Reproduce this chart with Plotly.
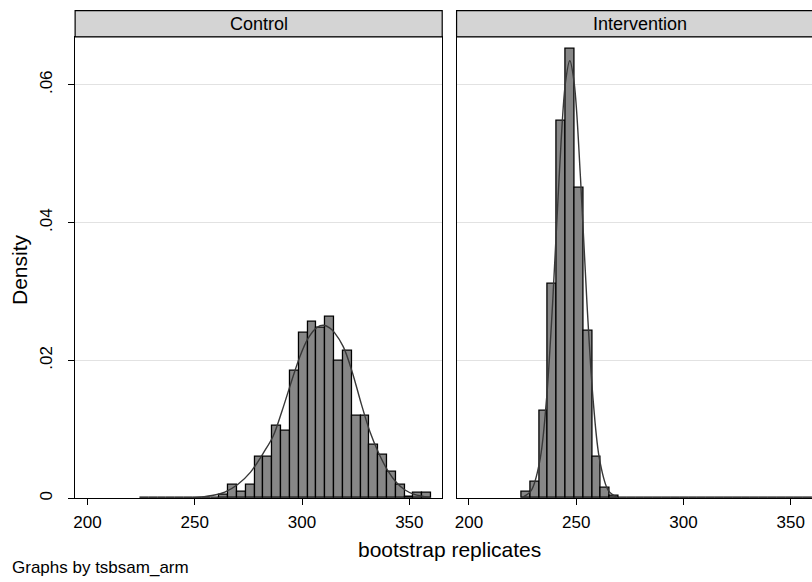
import plotly.graph_objects as go

# ---------------- data ----------------
bin_start = 224.5
bin_width = 4.112
n_bins = 33

control_density = [0, 0, 0, 0, 0, 0, 0, 0, 0,
                   0.00048, 0.00200, 0.00096, 0.00193, 0.00607, 0.00607,
                   0.01046, 0.00974, 0.01856, 0.02396, 0.02560, 0.02468,
                   0.02632, 0.02000, 0.02145, 0.01195, 0.01195, 0.00781,
                   0.00636, 0.00390, 0.00198, 0.00024, 0.00073, 0.00073]

intervention_density = [0.00092, 0.00236, 0.01263, 0.03110, 0.05470, 0.06520,
                        0.04500, 0.02430, 0.00600, 0.00145, 0.00040,
                        0, 0, 0, 0, 0, 0, 0, 0, 0, 0, 0, 0, 0, 0, 0, 0,
                        0, 0, 0, 0, 0, 0]

control_kde_x = [224.4, 240, 250, 258, 264, 270, 276, 282, 286.5, 290.7, 294.7,
                 298.8, 302.8, 307, 310, 313, 315.2, 319.2, 323.4, 327.6,
                 331.6, 335.8, 339.8, 344, 348, 352, 356, 360.1]
control_kde_y = [0.0, 0.00002, 0.0001, 0.0004, 0.0009, 0.0020, 0.0038, 0.0066,
                 0.0090, 0.0127, 0.0166, 0.0204, 0.0232, 0.0248, 0.0251, 0.0247,
                 0.0240, 0.0220, 0.0183, 0.0137, 0.0097, 0.0065, 0.0041, 0.0023,
                 0.0012, 0.0006, 0.0003, 0.0001]

intervention_kde_x = [225, 229, 233, 236, 239, 242, 245, 247, 249, 252, 255,
                      258, 261, 265, 269]
intervention_kde_y = [0.00014, 0.0011, 0.0054, 0.0138, 0.0283, 0.0464, 0.0604,
                      0.0635, 0.0604, 0.0464, 0.0283, 0.0138, 0.0054, 0.0011,
                      0.00014]

panels = ["Control", "Intervention"]
y_ticks = [0, 0.02, 0.04, 0.06]
y_tick_labels = ["0", ".02", ".04", ".06"]
x_ticks = [200, 250, 300, 350]
x_tick_labels = ["200", "250", "300", "350"]

# ---------------- figure ----------------
W, H = 812, 582
FONT = "Liberation Sans, Arial, Helvetica, sans-serif"
bar_fill = "#878787"
line_col = "#383838"

centers = [bin_start + (i + 0.5) * bin_width for i in range(n_bins)]

fig = go.Figure()
for k, dens in enumerate([control_density, intervention_density]):
    xa = "x" if k == 0 else "x2"
    ya = "y" if k == 0 else "y2"
    fig.add_trace(go.Bar(x=centers, y=dens, width=bin_width,
                         marker=dict(color=bar_fill, line=dict(color="black", width=1.3)),
                         xaxis=xa, yaxis=ya, showlegend=False, hoverinfo="skip"))
fig.add_trace(go.Scatter(x=control_kde_x, y=control_kde_y, mode="lines",
                         line=dict(color=line_col, width=1.4, shape="spline", smoothing=1.0),
                         xaxis="x", yaxis="y", showlegend=False, hoverinfo="skip"))
fig.add_trace(go.Scatter(x=intervention_kde_x, y=intervention_kde_y, mode="lines",
                         line=dict(color=line_col, width=1.4, shape="spline", smoothing=1.0),
                         xaxis="x2", yaxis="y2", showlegend=False, hoverinfo="skip"))

# pixel geometry
L1, R1 = 73.3, 441.3
L2 = 455.7
R2 = L2 + (R1 - L1)          # right edge of second panel (beyond the page)
TOP, BOT = 37.0, 500.0
STRIP_TOP = 10.7
px_per_unit = 2.151
x_lo = 200 - (85.7 - L1) / px_per_unit
x1_hi = x_lo + (R1 - L1) / px_per_unit
x2_hi = x_lo + (W - L2) / px_per_unit
y_hi = (BOT - TOP) / 138.3 * 0.02

def px(x):
    return x / W

def py(y):
    return 1 - y / H

tick_font = dict(family=FONT, size=17, color="black")
common_x = dict(tickmode="array", tickvals=x_ticks, ticktext=x_tick_labels,
                ticks="outside", ticklen=6, tickwidth=1.2, tickcolor="black",
                showgrid=False, zeroline=False, showline=True, linecolor="black",
                linewidth=1.2, tickfont=tick_font, fixedrange=True,
                ticklabelstandoff=2)
common_y = dict(tickmode="array", tickvals=y_ticks, ticktext=y_tick_labels,
                range=[0, y_hi], showgrid=True, gridcolor="#e2e2e2", gridwidth=1.2,
                zeroline=False, showline=True, linecolor="black", linewidth=1.2,
                tickfont=tick_font, fixedrange=True)

fig.update_layout(
    width=W, height=H,
    margin=dict(l=0, r=0, t=0, b=0, pad=0),
    paper_bgcolor="white", plot_bgcolor="white",
    bargap=0,
    xaxis=dict(domain=[px(L1), px(R1)], range=[x_lo, x1_hi], anchor="y",
               mirror=True, **common_x),
    yaxis=dict(domain=[py(BOT), py(TOP)], anchor="x", mirror=True,
               ticks="outside", ticklen=6, tickwidth=1.2, tickcolor="black",
               tickangle=-90, ticklabelstandoff=9, **common_y),
    xaxis2=dict(domain=[px(L2), 1.0], range=[x_lo, x2_hi], anchor="y2",
                mirror=True, **common_x),
    yaxis2=dict(domain=[py(BOT), py(TOP)], anchor="x2", mirror=False,
                ticks="", showticklabels=False, **common_y),
    font=dict(family=FONT, color="black"),
)

# strips
for k, (l, r) in enumerate([(L1, R1), (L2, R2)]):
    fig.add_shape(type="rect", xref="paper", yref="paper",
                  x0=px(l), x1=px(r), y0=py(TOP), y1=py(STRIP_TOP),
                  fillcolor="#d4d4d4", line=dict(color="black", width=1.2), layer="above")
    fig.add_annotation(text=panels[k], xref="paper", yref="paper",
                       x=px((l + r) / 2), y=py((TOP + STRIP_TOP) / 2),
                       showarrow=False, font=dict(family=FONT, size=18, color="black"),
                       xanchor="center", yanchor="middle")

fig.add_annotation(text="Density", xref="paper", yref="paper",
                   x=px(17), y=py(270), textangle=-90, showarrow=False,
                   font=dict(family=FONT, size=21, color="black"),
                   xanchor="center", yanchor="middle")
fig.add_annotation(text="bootstrap replicates", xref="paper", yref="paper",
                   x=px((L1 + R2) / 2), y=py(551), showarrow=False,
                   font=dict(family=FONT, size=21, color="black"),
                   xanchor="center", yanchor="middle")
fig.add_annotation(text="Graphs by tsbsam_arm", xref="paper", yref="paper",
                   x=px(8), y=py(569), showarrow=False,
                   font=dict(family=FONT, size=17, color="black"),
                   xanchor="left", yanchor="middle")

fig.write_html("out.html", config={"displayModeBar": False},
               post_script="document.body.style.margin='0px';document.body.style.overflow='hidden';")
